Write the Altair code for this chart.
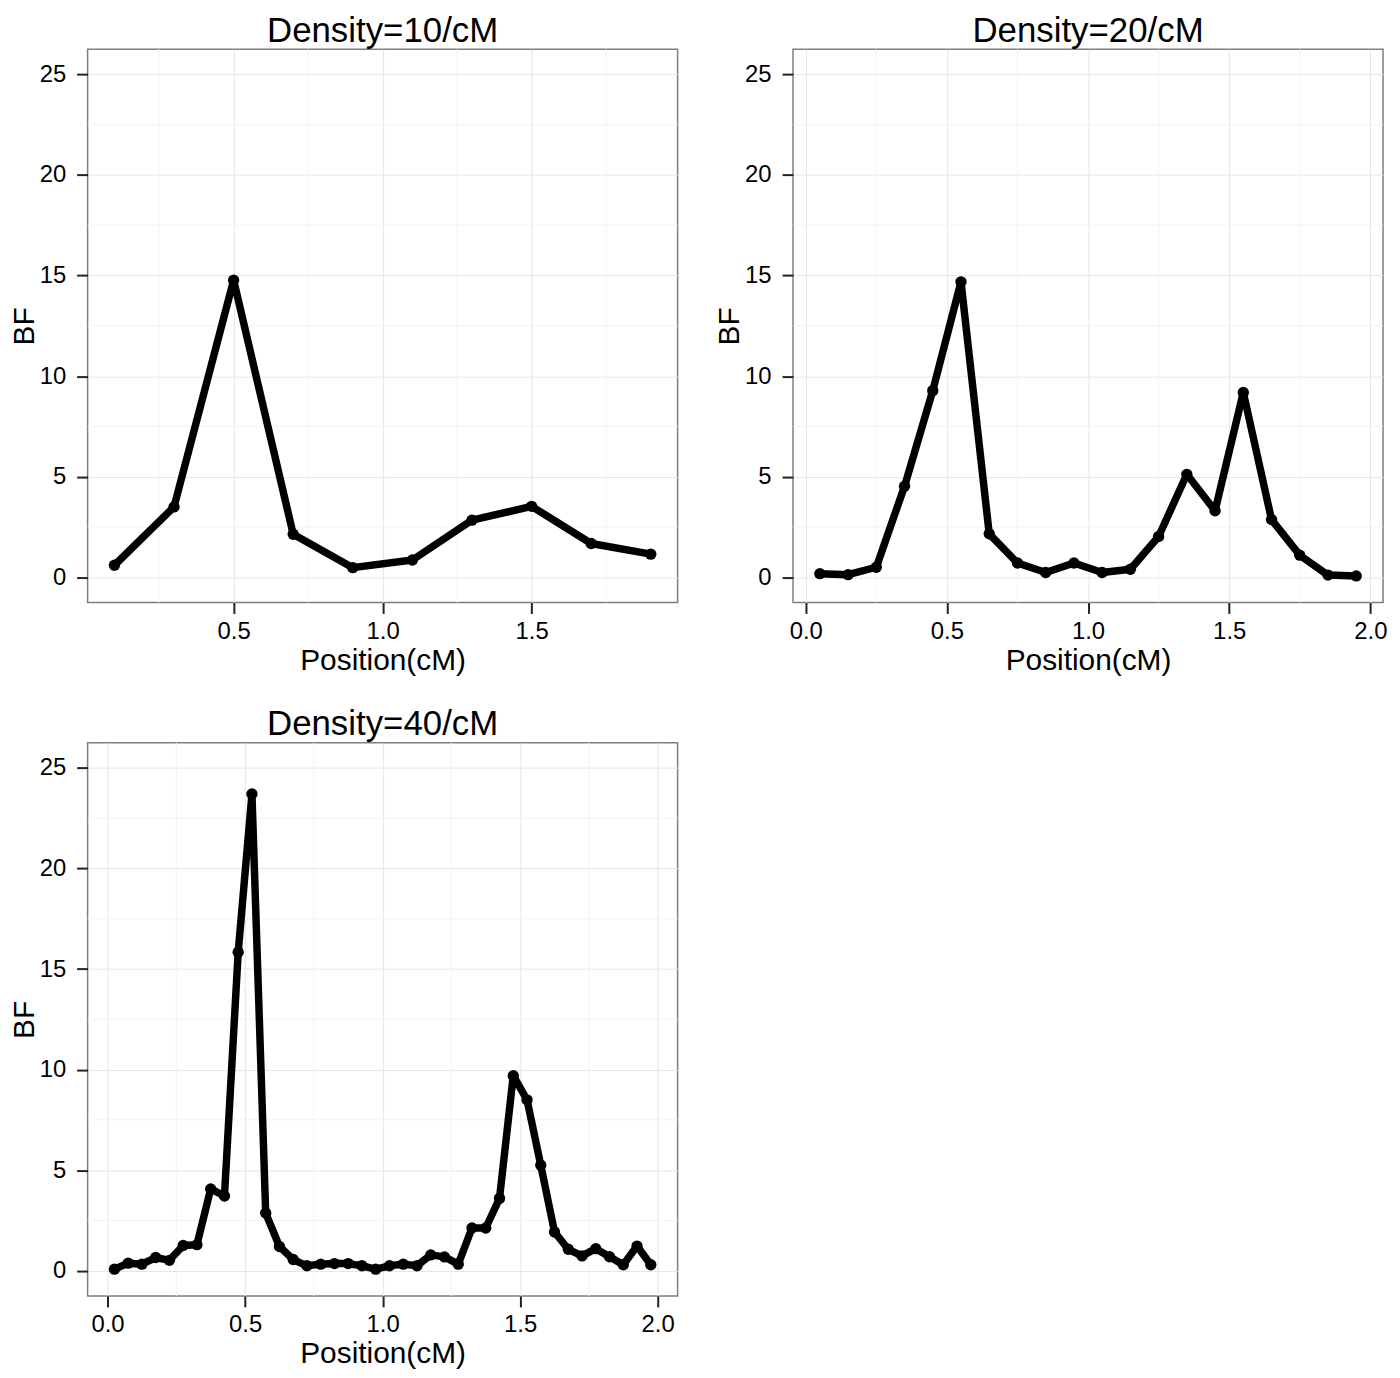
import altair as alt
import pandas as pd

# ---- data ----
titles = ["Density=10/cM", "Density=20/cM", "Density=40/cM"]

pos10 = [0.1, 0.3, 0.5, 0.7, 0.9, 1.1, 1.3, 1.5, 1.7, 1.9]
bf10 = [0.6, 3.5, 14.77, 2.14, 0.48, 0.86, 2.84, 3.53, 1.68, 1.15]

pos20 = [0.05, 0.15, 0.25, 0.35, 0.45, 0.55, 0.65, 0.75, 0.85, 0.95,
         1.05, 1.15, 1.25, 1.35, 1.45, 1.55, 1.65, 1.75, 1.85, 1.95]
bf20 = [0.18, 0.13, 0.5, 4.53, 9.28, 14.69, 2.16, 0.71, 0.24, 0.71,
        0.24, 0.4, 2.03, 5.12, 3.31, 9.19, 2.87, 1.1, 0.11, 0.07]

pos40 = [0.025, 0.075, 0.125, 0.175, 0.225, 0.275, 0.325, 0.375, 0.425, 0.475,
         0.525, 0.575, 0.625, 0.675, 0.725, 0.775, 0.825, 0.875, 0.925, 0.975,
         1.025, 1.075, 1.125, 1.175, 1.225, 1.275, 1.325, 1.375, 1.425, 1.475,
         1.525, 1.575, 1.625, 1.675, 1.725, 1.775, 1.825, 1.875, 1.925, 1.975]
bf40 = [0.08, 0.38, 0.33, 0.66, 0.52, 1.26, 1.3, 4.07, 3.72, 15.84,
        23.7, 2.87, 1.21, 0.56, 0.25, 0.33, 0.36, 0.36, 0.25, 0.08,
        0.25, 0.33, 0.25, 0.79, 0.69, 0.33, 2.13, 2.13, 3.6, 9.7,
        8.5, 5.25, 1.93, 1.07, 0.74, 1.1, 0.7, 0.3, 1.23, 0.3]

x_ticks_10 = [0.5, 1.0, 1.5]
x_ticks_full = [0.0, 0.5, 1.0, 1.5, 2.0]
x_minor = [0.25, 0.75, 1.25, 1.75]
y_ticks = [0, 5, 10, 15, 20, 25]
y_minor = [2.5, 7.5, 12.5, 17.5, 22.5]

x_domains = [[0.01, 1.99], [-0.045, 2.045], [-0.0725, 2.0725]]
y_domain = [-1.25, 26.25]

FONT = "Liberation Sans"
W, H = 593, 556


def panel(xs, ys, title, xdom, xticks):
    df = pd.DataFrame({"Position": xs, "BF": ys})
    xs_ = alt.Scale(domain=xdom, nice=False, zero=False)
    ys_ = alt.Scale(domain=y_domain, nice=False, zero=False)
    xaxis = alt.Axis(values=xticks, format=".1f", title="Position(cM)")
    yaxis = alt.Axis(values=y_ticks, format="d", title="BF")

    minor_x = alt.Chart(pd.DataFrame({"v": x_minor})).mark_rule(
        color="#F2F2F2", strokeWidth=1
    ).encode(x=alt.X("v:Q", scale=xs_, axis=xaxis))
    minor_y = alt.Chart(pd.DataFrame({"v": y_minor})).mark_rule(
        color="#F2F2F2", strokeWidth=1
    ).encode(y=alt.Y("v:Q", scale=ys_, axis=yaxis))

    base = alt.Chart(df).encode(
        x=alt.X("Position:Q", scale=xs_, axis=xaxis),
        y=alt.Y("BF:Q", scale=ys_, axis=yaxis),
    )
    line = base.mark_line(color="black", strokeWidth=7.5, strokeJoin="round")
    pts = base.mark_circle(color="black", opacity=1, size=130)

    return alt.layer(minor_x, minor_y, line, pts).properties(
        width=W,
        height=H,
        title=alt.TitleParams(
            text=title, fontSize=35, font=FONT, fontWeight="normal",
            color="black", anchor="middle", offset=0,
        ),
    )


p1 = panel(pos10, bf10, titles[0], x_domains[0], x_ticks_10)
p2 = panel(pos20, bf20, titles[1], x_domains[1], x_ticks_full)
p3 = panel(pos40, bf40, titles[2], x_domains[2], x_ticks_full)

chart = alt.concat(
    p1, p2, p3, columns=2,
    spacing={"row": 141, "column": 116},
    bounds="flush",
).properties(
    padding={"left": 0, "top": 1, "right": 4, "bottom": 4},
    background="white",
).configure_view(
    stroke="#7F7F7F", strokeWidth=1.5,
).configure_axis(
    domain=False,
    grid=True,
    gridColor="#E5E5E5",
    gridWidth=1,
    ticks=True,
    tickSize=11,
    tickWidth=2,
    tickColor="#222222",
    labelFont=FONT,
    labelFontSize=24,
    labelColor="black",
    titleFont=FONT,
    titleFontSize=30,
    titleFontWeight="normal",
    titleColor="black",
).configure_axisX(
    labelPadding=6,
    titlePadding=2,
).configure_axisY(
    labelPadding=11,
    titlePadding=0,
)

chart.save("out.html", embed_options={"renderer": "svg", "actions": False})
